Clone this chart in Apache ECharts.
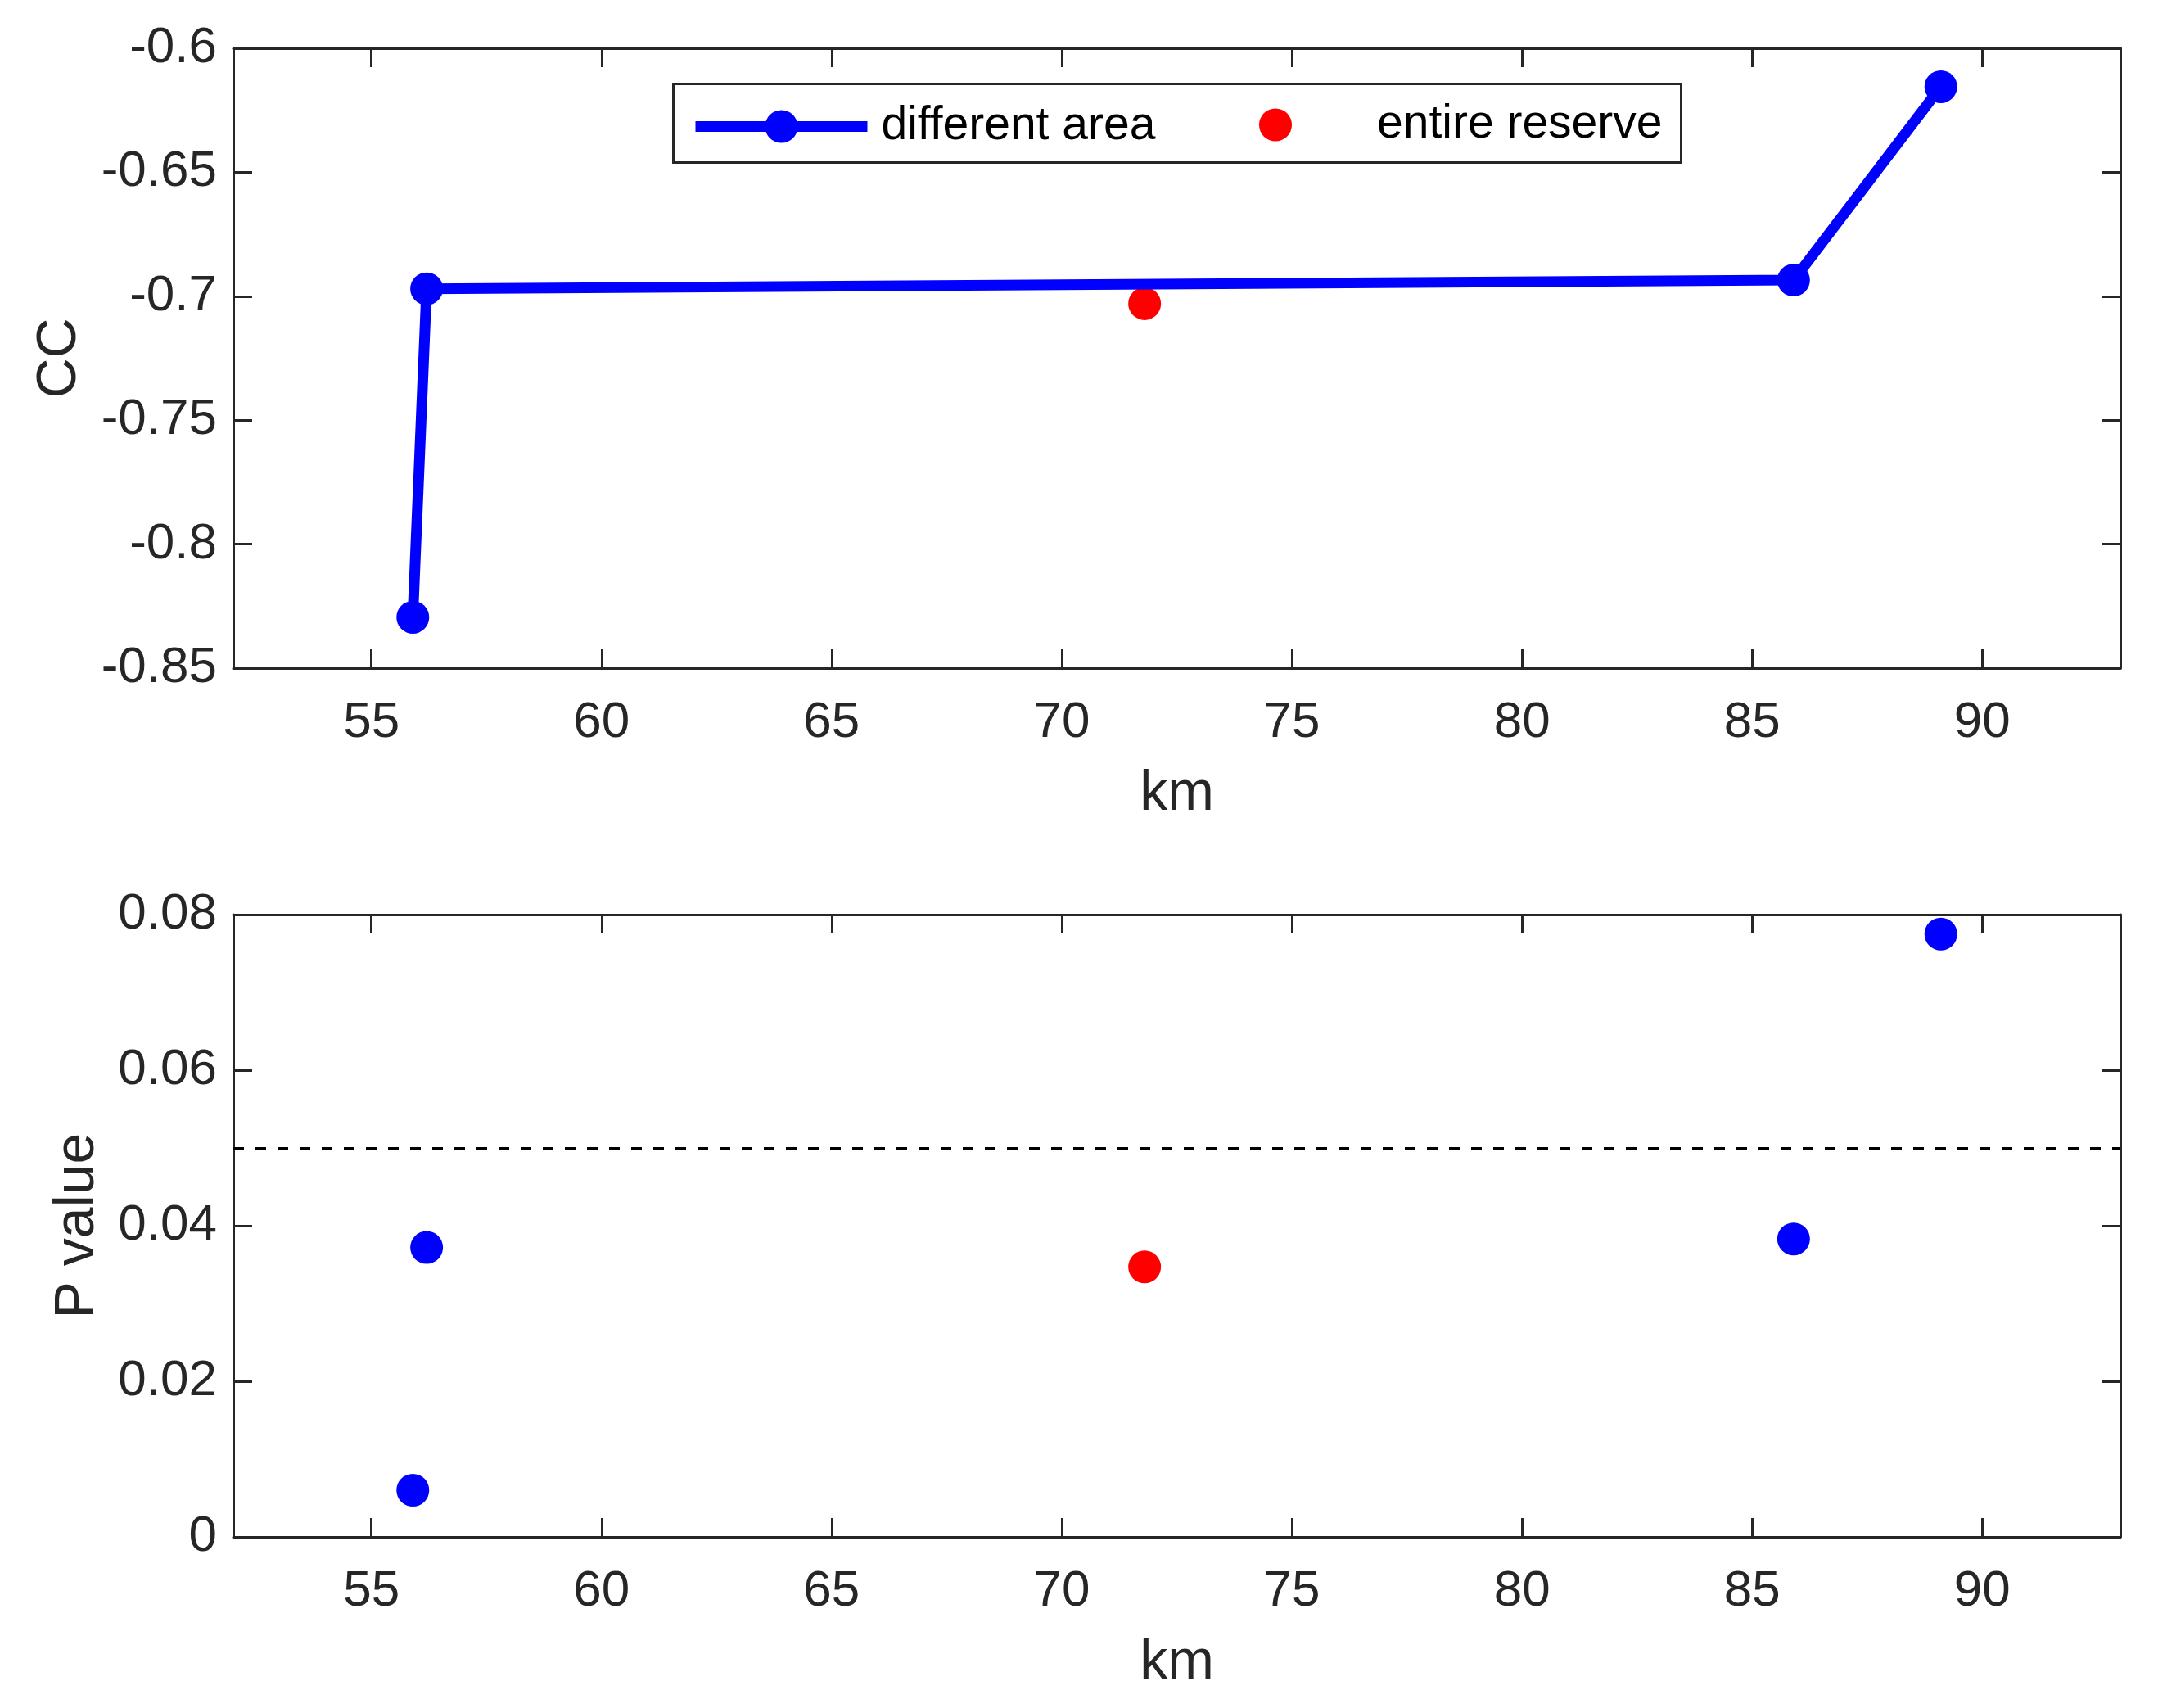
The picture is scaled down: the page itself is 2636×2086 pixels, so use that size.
<!DOCTYPE html>
<html>
<head>
<meta charset="utf-8">
<script src="https://cdn.jsdelivr.net/npm/echarts@6/dist/echarts.min.js"></script>
<style>
  html, body { margin: 0; padding: 0; background: #fff; }
  #chart { width: 2636px; height: 2086px; }
</style>
</head>
<body>
<div id="chart"></div>
<script>
// distance (km) of each area
var areaKm = [55.9, 56.2, 85.9, 89.1];
var reserveKm = [71.8];

// correlation coefficients
var areaCC = [-0.8295, -0.697, -0.6935, -0.6155];
var reserveCC = [-0.703];

// p values
var areaP = [0.0060, 0.0372, 0.0383, 0.0775];
var reserveP = [0.0347];
var pThreshold = 0.05;

var xTicks = [55, 60, 65, 70, 75, 80, 85, 90];
var seriesNames = ['different area', 'entire reserve'];

(function () {
  var AXIS = '#262626';
  var FONT = '"Liberation Sans", Arial, Helvetica, sans-serif';

  function pairs(xs, ys) {
    return xs.map(function (x, i) { return [x, ys[i]]; });
  }

  function cleanNum(v) {
    return String(+v.toFixed(3));
  }

  var lineStyle = { color: AXIS, width: 3 };
  var tick = { show: true, inside: true, length: 23, lineStyle: lineStyle };

  function xAxes(gridIndex) {
    return [
      {
        type: 'value', gridIndex: gridIndex, position: 'bottom',
        min: 52, max: 93,
        name: 'km', nameLocation: 'middle', nameGap: 120,
        nameTextStyle: { fontSize: 68, color: AXIS, fontFamily: FONT },
        axisLine: { show: true, onZero: false, lineStyle: lineStyle },
        axisTick: { show: true, inside: true, length: 23, lineStyle: lineStyle, customValues: xTicks },
        axisLabel: { fontSize: 62, color: AXIS, fontFamily: FONT, margin: 36, customValues: xTicks },
        splitLine: { show: false }
      },
      {
        type: 'value', gridIndex: gridIndex, position: 'top',
        min: 52, max: 93,
        axisLine: { show: true, onZero: false, lineStyle: lineStyle },
        axisTick: { show: true, inside: true, length: 23, lineStyle: lineStyle, customValues: xTicks },
        axisLabel: { show: false },
        splitLine: { show: false }
      }
    ];
  }

  function yAxes(gridIndex, min, max, interval, name, nameGap) {
    return [
      {
        type: 'value', gridIndex: gridIndex, position: 'left',
        min: min, max: max, interval: interval,
        name: name, nameLocation: 'middle', nameGap: nameGap,
        nameTextStyle: { fontSize: 68, color: AXIS, fontFamily: FONT },
        axisLine: { show: true, onZero: false, lineStyle: lineStyle },
        axisTick: tick,
        axisLabel: { fontSize: 62, color: AXIS, fontFamily: FONT, margin: 20, formatter: cleanNum },
        splitLine: { show: false }
      },
      {
        type: 'value', gridIndex: gridIndex, position: 'right',
        min: min, max: max, interval: interval,
        axisLine: { show: true, onZero: false, lineStyle: lineStyle },
        axisTick: tick,
        axisLabel: { show: false },
        splitLine: { show: false }
      }
    ];
  }

  var chart = echarts.init(document.getElementById('chart'));
  var option = {
    animation: false,
    backgroundColor: '#fff',
    grid: [
      { left: 285, right: 46, top: 59, height: 757 },
      { left: 285, right: 46, top: 1117, height: 760 }
    ],
    xAxis: xAxes(0).concat(xAxes(1)),
    yAxis: yAxes(0, -0.85, -0.6, 0.05, 'CC', 178).concat(yAxes(1, 0, 0.08, 0.02, 'P value', 156)),
    graphic: [
      {
        type: 'rect', left: 821, top: 101, z: 50,
        shape: { width: 1231, height: 96 },
        style: { fill: '#fff', stroke: AXIS, lineWidth: 3 }
      }
    ],
    legend: [
      {
        data: [seriesNames[0]],
        left: 843, top: 126, padding: 0, z: 60,
        itemWidth: 210, itemHeight: 50,
        lineStyle: { width: 13 },
        textStyle: { fontSize: 57, color: '#000', fontFamily: FONT, padding: [0, 0, 0, 12] }
      },
      {
        data: [seriesNames[1]],
        left: 1538, top: 124, padding: 0, z: 60,
        itemWidth: 40, itemHeight: 40,
        itemStyle: { opacity: 1 },
        textStyle: { fontSize: 57, color: '#000', fontFamily: FONT, padding: [0, 0, 0, 99] }
      }
    ],
    series: [
      {
        name: seriesNames[0], type: 'line', xAxisIndex: 0, yAxisIndex: 0,
        data: pairs(areaKm, areaCC),
        symbol: 'circle', symbolSize: 40,
        lineStyle: { color: '#0000ff', width: 13 },
        itemStyle: { color: '#0000ff', opacity: 1 }
      },
      {
        name: seriesNames[1], type: 'scatter', xAxisIndex: 0, yAxisIndex: 0,
        data: pairs(reserveKm, reserveCC),
        symbol: 'circle', symbolSize: 40,
        itemStyle: { color: '#ff0000', opacity: 1 }
      },
      {
        name: 'P ' + seriesNames[0], type: 'scatter', xAxisIndex: 2, yAxisIndex: 2,
        data: pairs(areaKm, areaP),
        symbol: 'circle', symbolSize: 40,
        itemStyle: { color: '#0000ff', opacity: 1 },
        markLine: {
          silent: true, symbol: 'none', label: { show: false },
          lineStyle: { color: '#000', width: 3, type: [13, 14] },
          data: [{ yAxis: pThreshold }]
        }
      },
      {
        name: 'P ' + seriesNames[1], type: 'scatter', xAxisIndex: 2, yAxisIndex: 2,
        data: pairs(reserveKm, reserveP),
        symbol: 'circle', symbolSize: 40,
        itemStyle: { color: '#ff0000', opacity: 1 }
      }
    ]
  };
  chart.setOption(option);
})();
</script>
</body>
</html>
